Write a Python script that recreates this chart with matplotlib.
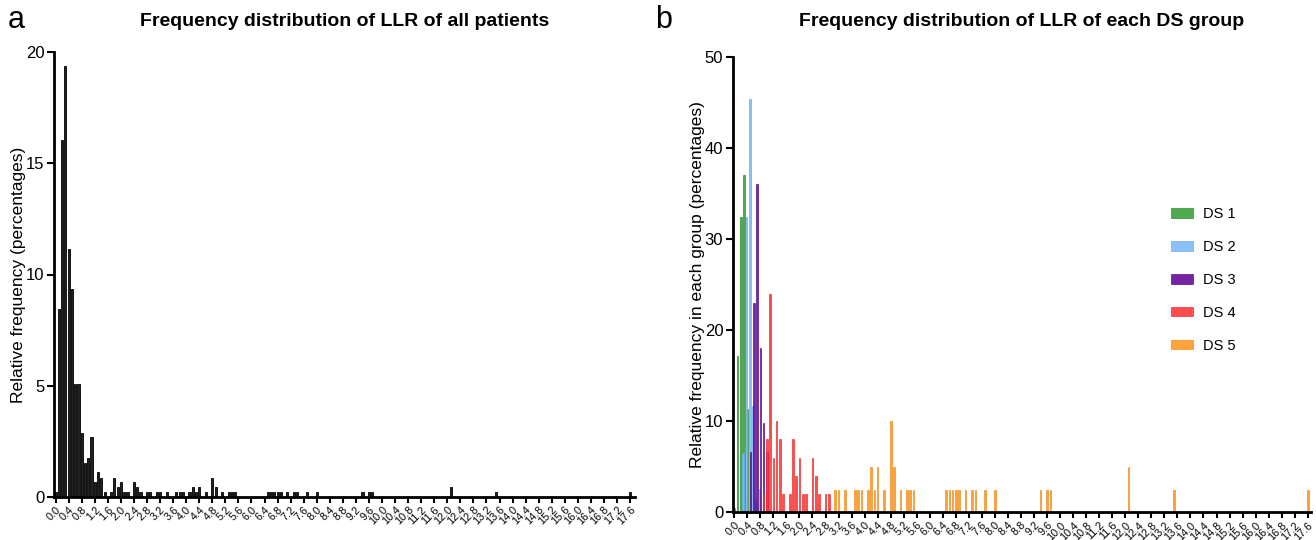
import matplotlib
matplotlib.use("Agg")
import matplotlib.pyplot as plt
import numpy as np

plt.rcParams['font.family'] = ['Liberation Sans', 'DejaVu Sans']

# ---- data: panel a (all patients) ----
all_llr = [0.0, 0.1, 0.2, 0.3, 0.4, 0.5, 0.6, 0.7, 0.8, 0.9, 1.0, 1.1, 1.2, 1.3, 1.4, 1.5,
           1.7, 1.8, 1.9, 2.0, 2.1, 2.2, 2.4, 2.5, 2.6, 2.8, 2.9, 3.1, 3.2, 3.4, 3.7, 3.8, 3.9,
           4.1, 4.2, 4.3, 4.4, 4.6, 4.8, 4.9, 5.1, 5.3, 5.4, 5.5, 6.5, 6.6, 6.7, 6.8, 6.9,
           7.1, 7.3, 7.4, 7.7, 8.0, 9.4, 9.6, 9.7, 12.1, 13.5, 17.6]
all_pct = [0.22, 8.44, 16.03, 19.39, 11.15, 9.36, 5.10, 5.10, 2.88, 1.54, 1.77, 2.68, 0.67, 1.11, 0.87, 0.22,
           0.22, 0.87, 0.44, 0.67, 0.22, 0.22, 0.67, 0.44, 0.22, 0.22, 0.22, 0.22, 0.22, 0.22, 0.22, 0.22, 0.22,
           0.22, 0.44, 0.22, 0.44, 0.22, 0.87, 0.44, 0.22, 0.22, 0.22, 0.22, 0.22, 0.22, 0.22, 0.22, 0.22,
           0.22, 0.22, 0.22, 0.22, 0.22, 0.22, 0.22, 0.22, 0.44, 0.22, 0.22]

# ---- data: panel b (each DS group) ----
ds1_llr = [0.0, 0.1, 0.2, 0.3, 0.4, 0.5]
ds1_pct = [0.5, 17.2, 32.4, 37.0, 11.3, 1.4]
ds2_llr = [0.3, 0.4, 0.5, 0.6, 0.7, 0.8]
ds2_pct = [6.5, 32.4, 45.4, 11.7, 1.3, 2.6]
ds3_llr = [0.5, 0.6, 0.7, 0.8, 0.9, 1.0]
ds3_pct = [6.6, 23.0, 36.1, 18.0, 9.8, 6.6]
ds4_llr = [0.9, 1.0, 1.1, 1.2, 1.3, 1.4, 1.5, 1.7, 1.8, 1.9, 2.0, 2.1, 2.2, 2.4, 2.5, 2.6, 2.8, 2.9]
ds4_pct = [2, 8, 24, 6, 10, 8, 2, 2, 8, 4, 6, 2, 2, 6, 4, 2, 2, 2]
ds5_llr = [3.1, 3.2, 3.4, 3.7, 3.8, 3.9, 4.1, 4.2, 4.3, 4.4, 4.6, 4.8, 4.9, 5.1, 5.3, 5.4, 5.5,
           6.5, 6.6, 6.7, 6.8, 6.9, 7.1, 7.3, 7.4, 7.7, 8.0, 9.4, 9.6, 9.7, 12.1, 13.5, 17.6]
ds5_pct = [2.5, 2.5, 2.5, 2.5, 2.5, 2.5, 2.5, 5, 2.5, 5, 2.5, 10, 5, 2.5, 2.5, 2.5, 2.5,
           2.5, 2.5, 2.5, 2.5, 2.5, 2.5, 2.5, 2.5, 2.5, 2.5, 2.5, 2.5, 2.5, 5, 2.5, 2.5]
group_names = ["DS 1", "DS 2", "DS 3", "DS 4", "DS 5"]

tick_vals = np.round(np.arange(0, 17.61, 0.4), 1)
tick_labels = [f"{v:.1f}" for v in tick_vals]

W, H = 1316, 540
fig = plt.figure(figsize=(13.16, 5.4), dpi=100)

def style_axes(ax):
    for s in ['top', 'right']:
        ax.spines[s].set_visible(False)
    for s in ['left', 'bottom']:
        ax.spines[s].set_linewidth(2.0)
    ax.set_xticks(tick_vals)
    ax.set_xticklabels(tick_labels, rotation=45, ha='right', rotation_mode='anchor', fontsize=7.8)
    ax.tick_params(axis='x', direction='out', length=4, width=1.5, pad=1.5)
    ax.tick_params(axis='y', direction='out', length=5, width=1.5, labelsize=12, pad=2)

# panel a
axa = fig.add_axes([54/W, 1 - 497/H, (635 - 54)/W, (497 - 52)/H])
axa.bar(all_llr, all_pct, width=0.065, color='#222222', edgecolor='black', linewidth=0.6)
axa.set_xlim(-0.05, 17.75)
axa.set_ylim(0, 20)
axa.set_yticks([0, 5, 10, 15, 20])
style_axes(axa)
axa.set_ylabel("Relative frequency (percentages)", fontsize=12.5)
axa.yaxis.set_label_coords((26 - 54) / (635 - 54), 0.5)

# panel b
axb = fig.add_axes([733/W, 1 - 512.3/H, (1311 - 733)/W, (512.3 - 57)/H])
faces = ['#3fa33f', '#80bcf7', '#6a0f9c', '#ff3d3d', '#ff9a26']
edges = ['#2a8a2a', '#62a9f0', '#560884', '#ee2a2a', '#f08a18']
offsets = [0.0, -0.025, 0.0, 0.0, 0.0]
groups = [(ds1_llr, ds1_pct), (ds2_llr, ds2_pct), (ds3_llr, ds3_pct), (ds4_llr, ds4_pct), (ds5_llr, ds5_pct)]
for i, ((xs, ys), name) in enumerate(zip(groups, group_names)):
    axb.bar(np.array(xs) + offsets[i], ys, width=0.05, color=faces[i], edgecolor=edges[i],
            linewidth=0.5, alpha=0.92, label=name)
axb.set_xlim(-0.04, 17.7)
axb.set_ylim(0, 50)
axb.set_yticks([0, 10, 20, 30, 40, 50])
style_axes(axb)
axb.set_ylabel("Relative frequency in each group (percentages)", fontsize=12.5)
axb.yaxis.set_label_coords((705 - 733) / (1311 - 733), 0.5)
axb.legend(loc='upper left', bbox_to_anchor=((1158 - 733) / (1311 - 733), 1 - (194 - 57) / (512.3 - 57)),
           frameon=False, fontsize=10.5,
           handlelength=1.5, handleheight=0.6, labelspacing=1.3, handletextpad=0.7)

fig.text(345/W, 1 - 22/H, "Frequency distribution of LLR of all patients",
         fontsize=14, fontweight='bold', ha='center', va='center')
fig.text(1022/W, 1 - 22/H, "Frequency distribution of LLR of each DS group",
         fontsize=14, fontweight='bold', ha='center', va='center')
fig.text(8/W, 1 - 20/H, "a", fontsize=22, va='center', ha='left')
fig.text(655/W, 1 - 20/H, "b", fontsize=22, va='center', ha='left')

fig.savefig("out.png", dpi=100)
